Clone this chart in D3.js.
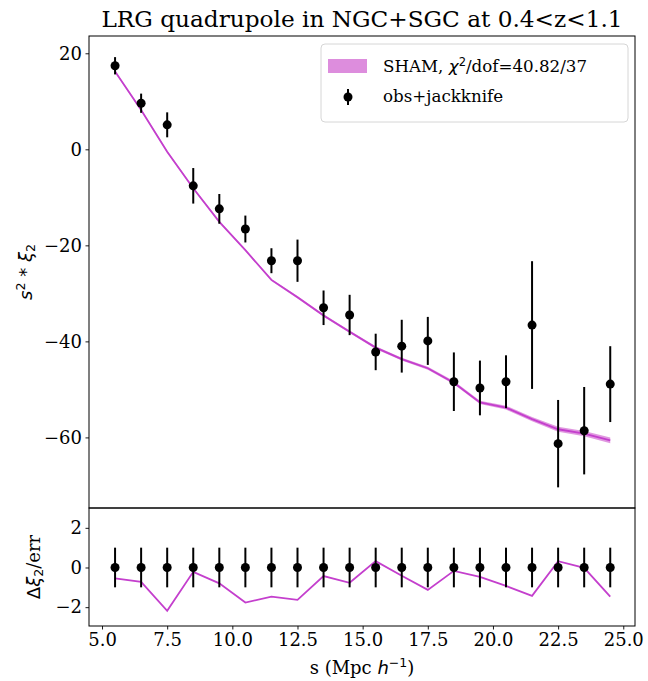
<!DOCTYPE html>
<html>
<head>
<meta charset="utf-8">
<script src="https://cdn.jsdelivr.net/npm/d3@7"></script>
<style>
  body { margin: 0; background: #fff; }
  text { font-family: "DejaVu Serif", serif; }
  .math { font-family: "DejaVu Sans", sans-serif; font-style: italic; }
</style>
</head>
<body>
<script>
// separation bins (Mpc/h)
var sBins = [5.5, 6.5, 7.5, 8.5, 9.5, 10.5, 11.5, 12.5, 13.5, 14.5,
             15.5, 16.5, 17.5, 18.5, 19.5, 20.5, 21.5, 22.5, 23.5, 24.5];

// observed s^2 * xi_2 and jackknife errors
var obsXi = [17.4, 9.6, 5.1, -7.6, -12.4, -16.6, -23.2, -23.2, -33.0, -34.5,
             -42.2, -41.0, -39.9, -48.4, -49.7, -48.4, -36.6, -61.3, -58.6, -48.9];
var obsErr = [1.8, 2.0, 2.6, 3.7, 3.1, 2.8, 2.6, 4.4, 3.6, 4.2,
              3.8, 5.5, 5.0, 6.1, 5.7, 5.5, 13.3, 9.1, 9.1, 7.9];

// SHAM model and its spread
var shamXi = [16.2, 8.2, -0.5, -8.1, -15.1, -21.0, -27.2, -30.8, -34.6, -38.0,
              -41.3, -43.7, -45.6, -48.6, -52.7, -53.8, -56.2, -58.3, -59.2, -60.6];
var shamErr = [0.2, 0.2, 0.2, 0.2, 0.2, 0.2, 0.2, 0.25, 0.25, 0.25,
               0.3, 0.3, 0.3, 0.35, 0.35, 0.4, 0.45, 0.5, 0.55, 0.6];

// residuals (model - obs)/err
var resid = [-0.55, -0.72, -2.18, -0.22, -0.80, -1.77, -1.47, -1.63, -0.43, -0.77,
             0.32, -0.42, -1.13, -0.17, -0.47, -0.93, -1.43, 0.32, -0.02, -1.47];

var xTicks = [5.0, 7.5, 10.0, 12.5, 15.0, 17.5, 20.0, 22.5, 25.0];
var yTicksTop = [20, 0, -20, -40, -60];
var yTicksBot = [2, 0, -2];

var width = 648, height = 681;
var left = 89, right = 635, top1 = 36, bot1 = 508, bot2 = 626;
var purple = "#c43fcd", band = "#dd8ddd";
var fs = 18, fsLeg = 16.7, fsSub = 12.5;

var svg = d3.select("body").append("svg")
    .attr("width", width).attr("height", height);

var x = d3.scaleLinear().domain([4.5, 25.45]).range([left, right]);
var yTop = d3.scaleLinear().domain([-74.7, 23.6]).range([bot1, top1]);
var yBot = d3.scaleLinear().domain([-2.95, 3.0]).range([bot2, bot1]);

function fmt(d) { return d3.format(".1f")(d); }
function fmtInt(d) { return String(d).replace("-", "\u2212"); }

// ---- upper panel ----
var up = svg.append("g");

up.append("path")
    .datum(sBins)
    .attr("fill", band)
    .attr("opacity", 0.9)
    .attr("d", d3.area()
        .x(function(d){ return x(d); })
        .y0(function(d, i){ return yTop(shamXi[i] - shamErr[i]); })
        .y1(function(d, i){ return yTop(shamXi[i] + shamErr[i]); }));

up.append("path")
    .datum(sBins)
    .attr("fill", "none")
    .attr("stroke", purple)
    .attr("stroke-width", 1.8)
    .attr("d", d3.line()
        .x(function(d){ return x(d); })
        .y(function(d, i){ return yTop(shamXi[i]); }));

up.selectAll(".ebar").data(sBins).enter().append("line")
    .attr("x1", function(d){ return x(d); })
    .attr("x2", function(d){ return x(d); })
    .attr("y1", function(d, i){ return yTop(obsXi[i] - obsErr[i]); })
    .attr("y2", function(d, i){ return yTop(obsXi[i] + obsErr[i]); })
    .attr("stroke", "#000").attr("stroke-width", 2);

up.selectAll(".dot").data(sBins).enter().append("circle")
    .attr("cx", function(d){ return x(d); })
    .attr("cy", function(d, i){ return yTop(obsXi[i]); })
    .attr("r", 4.5).attr("fill", "#000");

var yAxisTop = svg.append("g")
    .attr("transform", "translate(" + left + ",0)")
    .call(d3.axisLeft(yTop).tickValues(yTicksTop).tickSize(3.5).tickPadding(3.5).tickFormat(fmtInt));

svg.append("rect")
    .attr("x", left).attr("y", top1)
    .attr("width", right - left).attr("height", bot1 - top1)
    .attr("fill", "none").attr("stroke", "#000").attr("stroke-width", 1);

// ---- lower panel ----
var lo = svg.append("g");

lo.append("path")
    .datum(sBins)
    .attr("fill", "none")
    .attr("stroke", purple)
    .attr("stroke-width", 1.8)
    .attr("d", d3.line()
        .x(function(d){ return x(d); })
        .y(function(d, i){ return yBot(resid[i]); }));

lo.selectAll(".ebar").data(sBins).enter().append("line")
    .attr("x1", function(d){ return x(d); })
    .attr("x2", function(d){ return x(d); })
    .attr("y1", yBot(-1))
    .attr("y2", yBot(1))
    .attr("stroke", "#000").attr("stroke-width", 2);

lo.selectAll(".dot").data(sBins).enter().append("circle")
    .attr("cx", function(d){ return x(d); })
    .attr("cy", yBot(0))
    .attr("r", 4.5).attr("fill", "#000");

var yAxisBot = svg.append("g")
    .attr("transform", "translate(" + left + ",0)")
    .call(d3.axisLeft(yBot).tickValues(yTicksBot).tickSize(3.5).tickPadding(3.5).tickFormat(fmtInt));

var xAxis = svg.append("g")
    .attr("transform", "translate(0," + bot2 + ")")
    .call(d3.axisBottom(x).tickValues(xTicks).tickSize(3.5).tickPadding(3.5).tickFormat(fmt));

svg.append("rect")
    .attr("x", left).attr("y", bot1)
    .attr("width", right - left).attr("height", bot2 - bot1)
    .attr("fill", "none").attr("stroke", "#000").attr("stroke-width", 1);

svg.selectAll(".tick text")
    .style("font-family", "DejaVu Serif").style("font-size", fs + "px").attr("fill", "#000");
svg.selectAll(".domain").remove();
svg.selectAll(".tick line").attr("stroke", "#000").attr("stroke-width", 0.9);

// ---- labels ----
svg.append("text")
    .attr("x", (left + right) / 2).attr("y", 27)
    .attr("text-anchor", "middle")
    .style("font-size", "23.2px")
    .text("LRG quadrupole in NGC+SGC at 0.4<z<1.1");

var yl = svg.append("text")
    .attr("transform", "translate(32," + ((top1 + bot1) / 2) + ") rotate(-90)")
    .attr("text-anchor", "middle")
    .style("font-size", fs + "px");
yl.append("tspan").attr("class", "math").text("s");
yl.append("tspan").attr("class", "math").style("font-style", "normal").attr("dy", -7).style("font-size", fsSub + "px").text("2");
yl.append("tspan").attr("class", "math").style("font-style", "normal").attr("dy", 7).text(" * ");
yl.append("tspan").attr("class", "math").text("ξ");
yl.append("tspan").attr("class", "math").style("font-style", "normal").attr("dy", 3).style("font-size", fsSub + "px").text("2");

var yl2 = svg.append("text")
    .attr("transform", "translate(40," + ((bot1 + bot2) / 2) + ") rotate(-90)")
    .attr("text-anchor", "middle")
    .style("font-size", fs + "px");
yl2.append("tspan").attr("class", "math").style("font-style", "normal").text("Δ");
yl2.append("tspan").attr("class", "math").text("ξ");
yl2.append("tspan").attr("class", "math").style("font-style", "normal").attr("dy", 3).style("font-size", fsSub + "px").text("2");
yl2.append("tspan").attr("dy", -3).text("/err");

var xl = svg.append("text")
    .attr("x", (left + right) / 2).attr("y", 674)
    .attr("text-anchor", "middle")
    .style("font-size", fs + "px");
xl.append("tspan").text("s (Mpc ");
xl.append("tspan").attr("class", "math").text("h");
xl.append("tspan").attr("class", "math").style("font-style", "normal").attr("dy", -7).style("font-size", fsSub + "px").text("\u22121");
xl.append("tspan").attr("dy", 7).text(")");

// ---- legend ----
var lg = svg.append("g");
lg.append("rect")
    .attr("x", 321).attr("y", 44).attr("width", 307).attr("height", 78)
    .attr("rx", 4).attr("fill", "#fff").attr("fill-opacity", 0.8)
    .attr("stroke", "#d6d6d6").attr("stroke-width", 1);
lg.append("rect")
    .attr("x", 328).attr("y", 59).attr("width", 39).attr("height", 14)
    .attr("fill", band);
var t1 = lg.append("text").attr("x", 383).attr("y", 72).style("font-size", fsLeg + "px");
t1.append("tspan").text("SHAM, ");
t1.append("tspan").attr("class", "math").text("χ");
t1.append("tspan").attr("class", "math").style("font-style", "normal").attr("dy", -6).style("font-size", "11.5px").text("2");
t1.append("tspan").attr("dy", 6).text("/dof=40.82/37");
lg.append("line").attr("x1", 348).attr("x2", 348).attr("y1", 89).attr("y2", 105)
    .attr("stroke", "#000").attr("stroke-width", 2);
lg.append("circle").attr("cx", 348).attr("cy", 97).attr("r", 4.5).attr("fill", "#000");
lg.append("text").attr("x", 383).attr("y", 102).style("font-size", fsLeg + "px").text("obs+jackknife");
</script>
</body>
</html>
